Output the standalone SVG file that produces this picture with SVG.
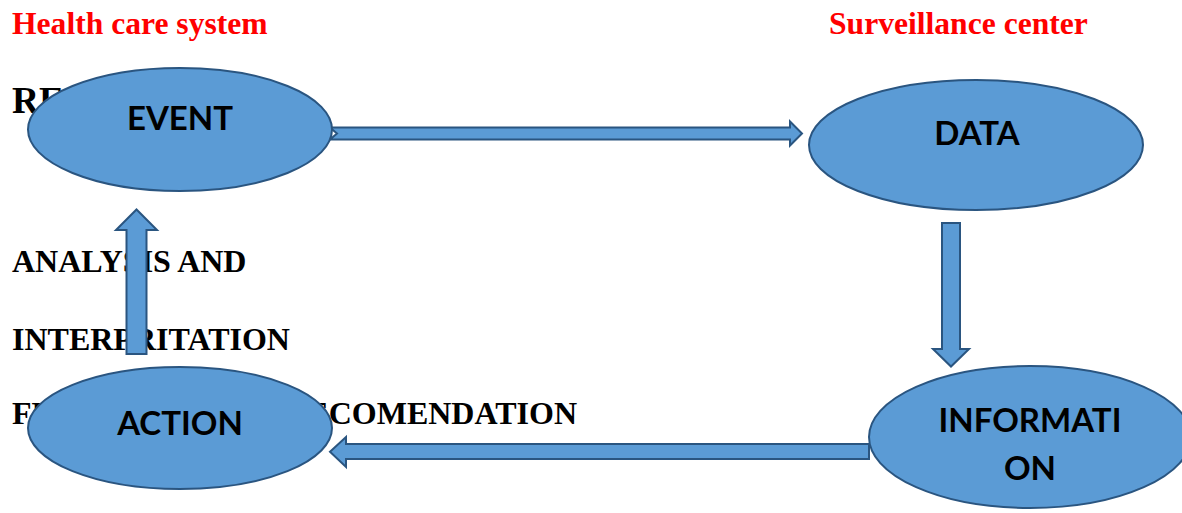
<svg xmlns="http://www.w3.org/2000/svg" width="1182" height="513" viewBox="0 0 1182 513">
  <style>
    .head { font-family: "Liberation Serif", "Times New Roman", serif; font-weight: bold; font-size: 31.6px; fill: #FF0000; }
    .body { font-family: "Liberation Serif", "Times New Roman", serif; font-weight: bold; font-size: 32px; fill: #000000; }
    .node { fill: #5B9BD5; stroke: #2A5580; stroke-width: 2; }
    .arrow { fill: #5B9BD5; stroke: #2A5580; stroke-width: 2; stroke-linejoin: miter; }
    .label { font-family: Lato, "Liberation Sans", sans-serif; font-weight: bold; font-size: 33px; fill: #000000; text-anchor: middle; }
  </style>
  <rect width="1182" height="513" fill="#FFFFFF"/>

  <g id="texts">
    <text class="head" x="12" y="34">Health care system</text>
    <text class="head" x="829" y="34">Surveillance center</text>
    <text class="body" x="12" y="113" style="font-size:37.5px">RE</text>
    <text class="body" x="12" y="272">ANALYSIS AND</text>
    <text class="body" x="12" y="350">INTERPRITATION</text>
    <text class="body" x="12" y="424">FE</text>
    <text class="body" x="577" y="424" text-anchor="end">RECOMENDATION</text>
  </g>

  <g id="connectors">
    <polygon class="arrow" points="330,127.5 790,127.5 790,121.5 802,133.5 790,145.5 790,139.5 330,139.5 337,133.5"/>
    <polygon class="arrow" points="942,223 960,223 960,349 969,349 951,366.5 933,349 942,349"/>
    <polygon class="arrow" points="869,444 346,444 346,437 330,451.7 346,467 346,459 869,459"/>
    <polygon class="arrow" points="126.5,354 146.5,354 146.5,230 157,230 136.5,209.5 116,230 126.5,230"/>
  </g>

  <g id="node-event">
    <ellipse class="node" cx="180" cy="129.5" rx="152" ry="61.5"/>
    <text class="label" x="180" y="130">EVENT</text>
  </g>
  <g id="node-data">
    <ellipse class="node" cx="976" cy="145" rx="167" ry="65"/>
    <text class="label" x="977" y="145">DATA</text>
  </g>
  <g id="node-information">
    <ellipse class="node" cx="1030" cy="437" rx="161" ry="71"/>
    <text class="label" x="1030" y="432">INFORMATI</text>
    <text class="label" x="1030" y="480">ON</text>
  </g>
  <g id="node-action">
    <ellipse class="node" cx="180" cy="428" rx="152" ry="61"/>
    <text class="label" x="180" y="435">ACTION</text>
  </g>
</svg>
